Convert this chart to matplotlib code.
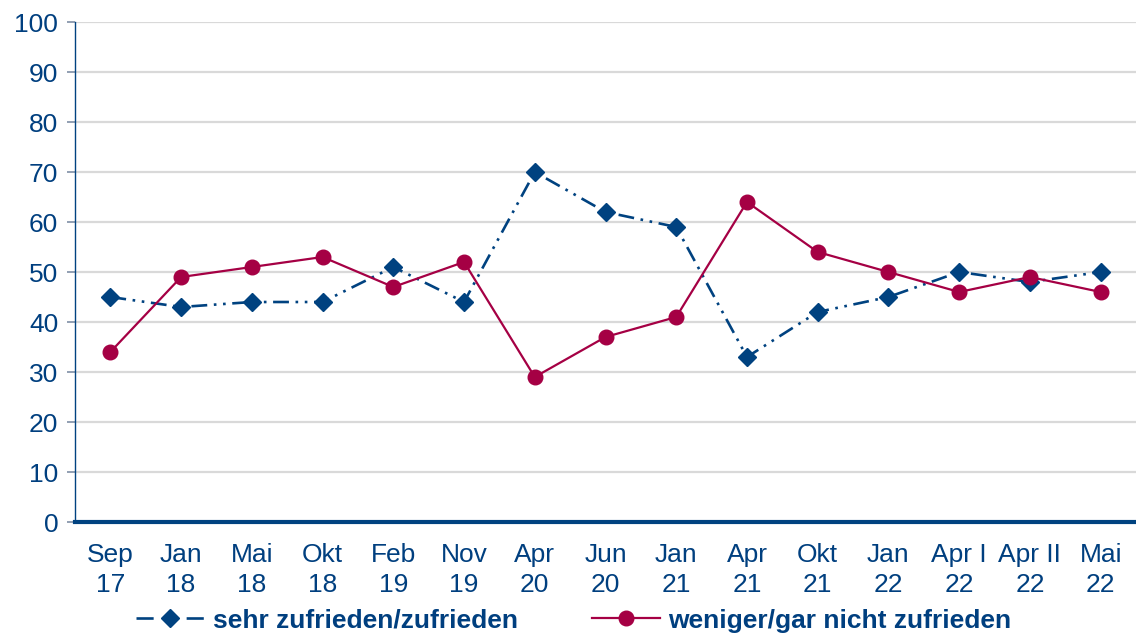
import matplotlib.pyplot as plt
from matplotlib.lines import Line2D

plt.rcParams['font.family'] = ['Liberation Sans', 'DejaVu Sans']

labels = ['Sep\n17', 'Jan\n18', 'Mai\n18', 'Okt\n18', 'Feb\n19', 'Nov\n19', 'Apr\n20', 'Jun\n20',
          'Jan\n21', 'Apr\n21', 'Okt\n21', 'Jan\n22', 'Apr I\n22', 'Apr II\n22', 'Mai\n22']
zufrieden = [45, 43, 44, 44, 51, 44, 70, 62, 59, 33, 42, 45, 50, 48, 50]
nicht_zufrieden = [34, 49, 51, 53, 47, 52, 29, 37, 41, 64, 54, 50, 46, 49, 46]

blue = '#004280'
red = '#a50044'
txt = '#003f7f'

fig = plt.figure(figsize=(11.36, 6.36), dpi=100)
ax = fig.add_axes([75 / 1136, 114 / 636, 1061 / 1136, 500 / 636])

x = list(range(len(labels)))
ax.plot(x, zufrieden, color=blue, lw=1.9, marker='D', markersize=9,
        dashes=(6, 2.5, 1, 2.5, 1, 2.5), zorder=3)
ax.plot(x, nicht_zufrieden, color=red, lw=1.6, marker='o', markersize=10.5, zorder=4)

ax.set_xlim(-0.5, len(labels) - 0.5)
ax.set_ylim(0, 100)
ax.set_yticks(range(0, 101, 10))
ax.set_xticks(x)
ax.set_xticklabels(labels, linespacing=1.3)
for yv in range(10, 101, 10):
    ax.axhline(yv, color='#d9d9d9', lw=1.6, zorder=0)

ax.tick_params(axis='y', colors='#7f8fa6', length=6, width=1.2, labelsize=19, labelcolor=txt, pad=6)
ax.tick_params(axis='x', length=0, labelsize=19, labelcolor=txt, pad=15)
for s in ['top', 'right']:
    ax.spines[s].set_visible(False)
ax.spines['left'].set_color(blue)
ax.spines['left'].set_linewidth(1.0)
ax.spines['bottom'].set_color(blue)
ax.spines['bottom'].set_linewidth(3.0)
ax.spines['bottom'].set_zorder(5)

h1 = Line2D([], [], color=blue, lw=1.9, marker='D', markersize=9, dashes=(6.5, 12.5, 6.5, 20))
h2 = Line2D([], [], color=red, lw=1.6, marker='o', markersize=10.5)
leg = fig.legend([h1, h2], ['sehr zufrieden/zufrieden', 'weniger/gar nicht zufrieden'],
                 loc='lower center', bbox_to_anchor=(0.505, -0.032), ncol=2, frameon=False,
                 prop={'weight': 'bold', 'size': 19}, handlelength=2.6, columnspacing=2.8,
                 handletextpad=0.3)
for t in leg.get_texts():
    t.set_color(txt)

fig.savefig('out.png', dpi=100)
